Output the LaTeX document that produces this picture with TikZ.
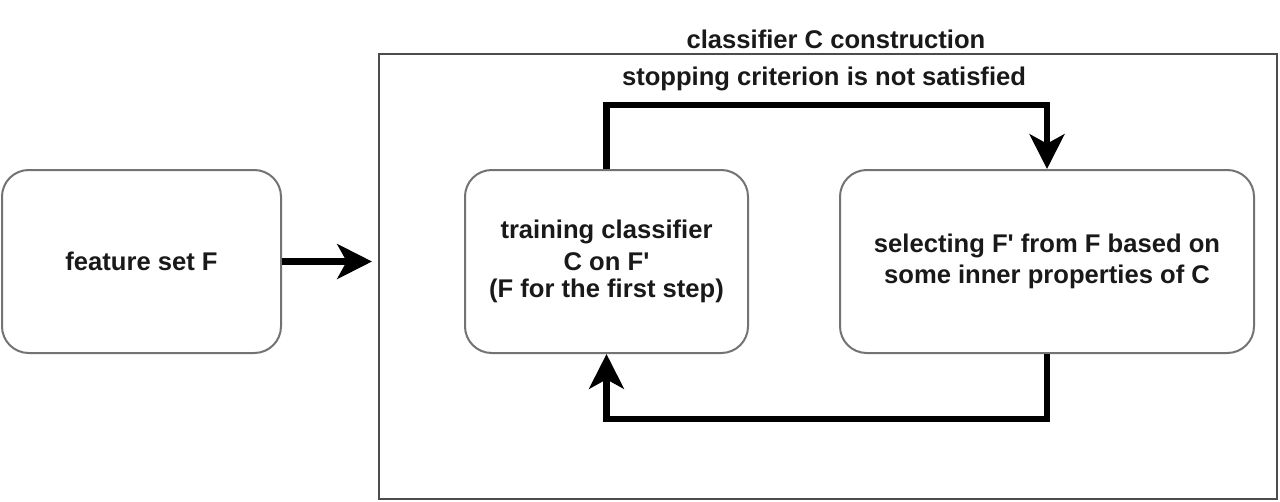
\documentclass[tikz,border=0pt]{standalone}
\usepackage{fontspec}
\setmainfont{Liberation Sans}[Ligatures=TeXOff]
\usetikzlibrary{arrows.meta}
\begin{document}
\begin{tikzpicture}[x=0.75pt,y=-0.75pt,
  txt/.style={font=\fontsize{19.2}{22.5}\selectfont\bfseries, align=center, text=black!90},
  roundbox/.style={txt, draw=black!55, line width=1.5pt, rounded corners=20pt, inner sep=0pt, minimum height=183*0.75pt},
  conn/.style={line width=5.2pt, -{Stealth[length=26pt,width=26pt,inset=7pt]}}
]
\path[use as bounding box, fill=white] (0,0) rectangle (1280,501);
\node[draw=black!70, line width=1.5pt, minimum width=898*0.75pt, minimum height=445*0.75pt, inner sep=0pt] (big) at (828,276.5) {};
\node[txt] (title) at (836,39) {classifier C construction};
\node[roundbox, minimum width=279*0.75pt] (b1) at (141.5,261.5) {feature set F};
\node[roundbox, minimum width=283*0.75pt] (b2) at (606.5,261.5) {\raisebox{-6.3pt}{\shortstack{training classifier\\[3.6pt]C on F'\\[3.6pt](F for the first step)}}};
\node[roundbox, minimum width=414*0.75pt] (b3) at (1047,261.5) {\raisebox{-7.4pt}{\shortstack{selecting F' from F based on\\[2.6pt]some inner properties of C}}};
\coordinate (tl) at (606.5,105);
\node[txt] (crit) at (824,79) {stopping criterion is not satisfied};
\draw[conn] (b1.east) -- ([xshift=-6*0.75pt]b1.east -| big.west);
\draw[conn] (b2.north) -- (tl) -| (b3.north);
\draw[conn] (b3.south) -- ++(0,65) -| (b2.south);
\end{tikzpicture}
\end{document}
